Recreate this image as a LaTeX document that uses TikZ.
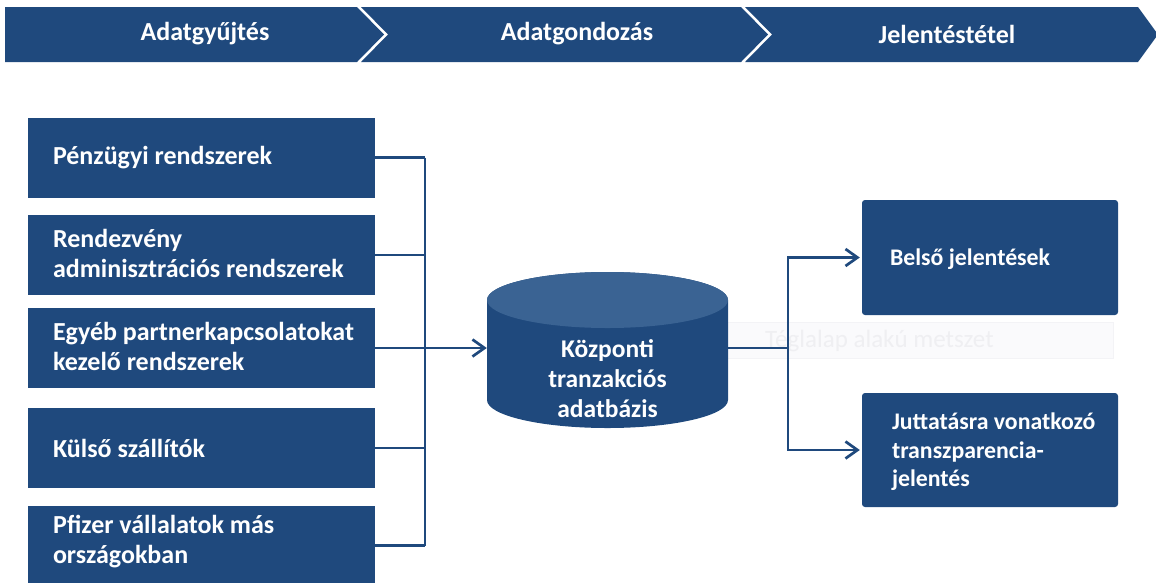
\documentclass[tikz,border=0pt]{standalone}
\usepackage{fontspec}
\setmainfont{Carlito}
\usetikzlibrary{arrows.meta}
\definecolor{pblue}{HTML}{1F497D}
\definecolor{ptop}{HTML}{3A6393}
\definecolor{ghostfill}{HTML}{FAFAFC}
\definecolor{ghostline}{HTML}{F3F3F6}
\definecolor{ghosttext}{HTML}{EFEFF2}
\tikzset{
  lbox/.style={fill=pblue, minimum width=347pt, minimum height=80pt, inner sep=0pt},
  rbox/.style={fill=pblue, rounded corners=3pt, minimum width=256pt, minimum height=114pt, inner sep=0pt},
  wtext/.style={text=white, font=\bfseries\fontsize{26}{30}\selectfont, align=left, inner sep=0pt, anchor=west},
  rtext/.style={text=white, font=\bfseries\fontsize{23.8}{28.5}\selectfont, align=left, inner sep=0pt, anchor=west},
  htext/.style={text=white, font=\bfseries\fontsize{26}{30}\selectfont, inner sep=0pt},
  dbtext/.style={text=white, font=\bfseries\fontsize{25.5}{30}\selectfont, align=center, inner sep=0pt},
  conn/.style={draw=pblue, line width=2.7pt},
  tip/.style={-{Straight Barb[length=12pt,width=17pt]}},
  chev/.style={fill=pblue},
  ghost/.style={fill=ghostfill, draw=ghostline, line width=0.6pt, minimum width=403pt, minimum height=36pt, inner sep=0pt},
  ghosttxt/.style={text=ghosttext, font=\fontsize{25}{30}\selectfont, inner sep=0pt, anchor=west}
}
\begin{document}
\begin{tikzpicture}[x=1pt,y=-1pt]
\useasboundingbox (0,0) rectangle (1156,582);
\clip (0,0) rectangle (1156,582);
% header chevrons
\fill[chev] (5,7) -- (357,7) -- (384,34.5) -- (357,62) -- (5,62) -- cycle;
\fill[chev] (361,7) -- (741,7) -- (768,34.5) -- (741,62) -- (361,62) -- (388,34.5) -- cycle;
\fill[chev] (745,7) -- (1138,7) -- (1158,34.5) -- (1138,62) -- (745,62) -- (772,34.5) -- cycle;
\node[htext] (h1) at (205,34) {Adatgyűjtés};
\node[htext] (h2) at (577,34) {Adatgondozás};
\node[htext] (h3) at (947,34) {Jelentéstétel};
% left boxes
\node[lbox] (l1) at (201.5,157.5) {};
\node[lbox] (l2) at (201.5,255) {};
\node[lbox] (l3) at (201.5,348) {};
\node[lbox] (l4) at (201.5,448) {};
\node[lbox] (l5) at (201.5,545.5) {};
\node[wtext] (t1) at ([xshift=25pt]l1.west) {Pénzügyi rendszerek};
\node[wtext] (t2) at ([xshift=25pt,yshift=2pt]l2.west) {Rendezvény\\adminisztrációs rendszerek};
\node[wtext] (t3) at ([xshift=25pt,yshift=2pt]l3.west) {Egyéb partnerkapcsolatokat\\kezelő rendszerek};
\node[wtext] (t4) at ([xshift=25pt]l4.west) {Külső szállítók};
\node[wtext] (t5) at ([xshift=25pt,yshift=4pt]l5.west) {Pfizer vállalatok más\\országokban};
% ghost placeholder
\node[ghost] (g) at (911.5,340) {};
\node[ghosttxt] (gt) at (765,341) {Téglalap alakú metszet};
% cylinder
\fill[pblue] (487,300) -- (487,400)
  arc[start angle=180, end angle=360, x radius=120.5pt, y radius=28pt]
  -- (728,300)
  arc[start angle=0, end angle=180, x radius=120.5pt, y radius=28pt] -- cycle;
\fill[ptop] (607.5,300) ellipse[x radius=120.5pt, y radius=28pt];
\node[inner sep=0pt, minimum width=241pt, minimum height=2pt] (db) at (607.5,348) {};
\node[dbtext] (dbt) at (607.5,379) {Központi\\tranzakciós\\adatbázis};
% right boxes
\node[rbox, minimum height=115pt] (r1) at (990,257.5) {};
\node[rbox] (r2) at (990,450) {};
\node[rtext] (rt1) at ([xshift=28pt,yshift=-2pt]r1.west) {Belső jelentések};
\node[rtext] (rt2) at ([xshift=30pt,yshift=-2pt]r2.west) {Juttatásra vonatkozó\\transzparencia-\\jelentés};
% left connectors
\coordinate (bus) at (425,0);
\draw[conn] (l1.east) -- (l1.east -| bus);
\draw[conn] (l2.east) -- (l2.east -| bus);
\draw[conn] (l4.east) -- (l4.east -| bus);
\draw[conn] (l5.east) -- (l5.east -| bus);
\draw[conn] (l1.east -| bus) -- (l5.east -| bus);
\draw[conn,tip] (l3.east) -- (db.west);
% right connectors
\coordinate (split) at (788,348);
\draw[conn] (db.east) -- (split);
\draw[conn,tip] (split) |- ([xshift=-2pt]r1.west);
\draw[conn,tip] (split) |- ([xshift=-2pt]r2.west);
\end{tikzpicture}
\end{document}
